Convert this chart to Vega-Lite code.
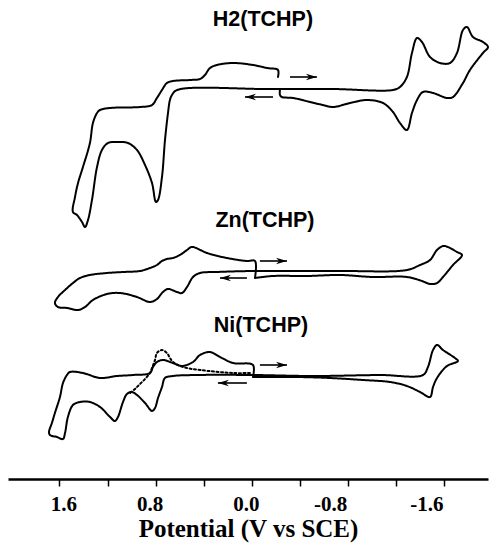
{
"$schema": "https://vega.github.io/schema/vega-lite/v6.json",
"width": 480, "height": 479,
"autosize": "none",
"padding": {"left": 8, "right": 2, "top": 0, "bottom": 67},
"background": "white",
"config": {"view": {"stroke": null}},
"datasets": {
"curves": [
{"s":"H2","st":"solid","o":1,"V":-0.216,"I":402},{"s":"H2","st":"solid","o":2,"V":-0.216,"I":409},{"s":"H2","st":"solid","o":3,"V":-0.125,"I":411},{"s":"H2","st":"solid","o":4,"V":-0.008,"I":414},{"s":"H2","st":"solid","o":5,"V":0.158,"I":416},{"s":"H2","st":"solid","o":6,"V":0.291,"I":414},{"s":"H2","st":"solid","o":7,"V":0.349,"I":411},{"s":"H2","st":"solid","o":8,"V":0.391,"I":404},{"s":"H2","st":"solid","o":9,"V":0.432,"I":400},{"s":"H2","st":"solid","o":10,"V":0.515,"I":399},{"s":"H2","st":"solid","o":11,"V":0.657,"I":398},{"s":"H2","st":"solid","o":12,"V":0.707,"I":396},{"s":"H2","st":"solid","o":13,"V":0.748,"I":389},{"s":"H2","st":"solid","o":14,"V":0.79,"I":381},{"s":"H2","st":"solid","o":15,"V":0.831,"I":374},{"s":"H2","st":"solid","o":16,"V":0.931,"I":372},{"s":"H2","st":"solid","o":17,"V":1.18,"I":371},{"s":"H2","st":"solid","o":18,"V":1.263,"I":369},{"s":"H2","st":"solid","o":19,"V":1.288,"I":366},{"s":"H2","st":"solid","o":20,"V":1.322,"I":356},{"s":"H2","st":"solid","o":21,"V":1.347,"I":336},{"s":"H2","st":"solid","o":22,"V":1.405,"I":312},{"s":"H2","st":"solid","o":23,"V":1.446,"I":296},{"s":"H2","st":"solid","o":24,"V":1.471,"I":282},{"s":"H2","st":"solid","o":25,"V":1.488,"I":267},{"s":"H2","st":"solid","o":26,"V":1.455,"I":264},{"s":"H2","st":"solid","o":27,"V":1.413,"I":257},{"s":"H2","st":"solid","o":28,"V":1.388,"I":252},{"s":"H2","st":"solid","o":29,"V":1.363,"I":259},{"s":"H2","st":"solid","o":30,"V":1.33,"I":279},{"s":"H2","st":"solid","o":31,"V":1.288,"I":312},{"s":"H2","st":"solid","o":32,"V":1.247,"I":329},{"s":"H2","st":"solid","o":33,"V":1.197,"I":336},{"s":"H2","st":"solid","o":34,"V":1.114,"I":337},{"s":"H2","st":"solid","o":35,"V":1.031,"I":336},{"s":"H2","st":"solid","o":36,"V":0.956,"I":329},{"s":"H2","st":"solid","o":37,"V":0.889,"I":314},{"s":"H2","st":"solid","o":38,"V":0.831,"I":296},{"s":"H2","st":"solid","o":39,"V":0.798,"I":277},{"s":"H2","st":"solid","o":40,"V":0.781,"I":279},{"s":"H2","st":"solid","o":41,"V":0.748,"I":302},{"s":"H2","st":"solid","o":42,"V":0.723,"I":339},{"s":"H2","st":"solid","o":43,"V":0.698,"I":366},{"s":"H2","st":"solid","o":44,"V":0.682,"I":379},{"s":"H2","st":"solid","o":45,"V":0.665,"I":384},{"s":"H2","st":"solid","o":46,"V":0.623,"I":389},{"s":"H2","st":"solid","o":47,"V":-0.125,"I":390},{"s":"H2","st":"solid","o":48,"V":-0.673,"I":390},{"s":"H2","st":"solid","o":49,"V":-1.172,"I":389},{"s":"H2","st":"solid","o":50,"V":-1.23,"I":392},{"s":"H2","st":"solid","o":51,"V":-1.288,"I":402},{"s":"H2","st":"solid","o":52,"V":-1.33,"I":426},{"s":"H2","st":"solid","o":53,"V":-1.372,"I":441},{"s":"H2","st":"solid","o":54,"V":-1.413,"I":437},{"s":"H2","st":"solid","o":55,"V":-1.48,"I":422},{"s":"H2","st":"solid","o":56,"V":-1.563,"I":416},{"s":"H2","st":"solid","o":57,"V":-1.646,"I":416},{"s":"H2","st":"solid","o":58,"V":-1.704,"I":426},{"s":"H2","st":"solid","o":59,"V":-1.754,"I":449},{"s":"H2","st":"solid","o":60,"V":-1.787,"I":452},{"s":"H2","st":"solid","o":61,"V":-1.837,"I":442},{"s":"H2","st":"solid","o":62,"V":-1.92,"I":437},{"s":"H2","st":"solid","o":63,"V":-1.962,"I":432},{"s":"H2","st":"solid","o":64,"V":-1.92,"I":426},{"s":"H2","st":"solid","o":65,"V":-1.812,"I":409},{"s":"H2","st":"solid","o":66,"V":-1.754,"I":396},{"s":"H2","st":"solid","o":67,"V":-1.671,"I":382},{"s":"H2","st":"solid","o":68,"V":-1.621,"I":381},{"s":"H2","st":"solid","o":69,"V":-1.505,"I":386},{"s":"H2","st":"solid","o":70,"V":-1.421,"I":387},{"s":"H2","st":"solid","o":71,"V":-1.372,"I":379},{"s":"H2","st":"solid","o":72,"V":-1.33,"I":366},{"s":"H2","st":"solid","o":73,"V":-1.288,"I":349},{"s":"H2","st":"solid","o":74,"V":-1.23,"I":356},{"s":"H2","st":"solid","o":75,"V":-1.172,"I":367},{"s":"H2","st":"solid","o":76,"V":-1.089,"I":376},{"s":"H2","st":"solid","o":77,"V":-0.956,"I":379},{"s":"H2","st":"solid","o":78,"V":-0.815,"I":376},{"s":"H2","st":"solid","o":79,"V":-0.673,"I":372},{"s":"H2","st":"solid","o":80,"V":-0.59,"I":374},{"s":"H2","st":"solid","o":81,"V":-0.482,"I":377},{"s":"H2","st":"solid","o":82,"V":-0.341,"I":381},{"s":"H2","st":"solid","o":83,"V":-0.249,"I":382},{"s":"H2","st":"solid","o":84,"V":-0.233,"I":384},{"s":"H2","st":"solid","o":85,"V":-0.233,"I":390},
{"s":"Zn","st":"solid","o":0,"V":-0.025,"I":201},{"s":"Zn","st":"solid","o":1,"V":-0.025,"I":218},{"s":"Zn","st":"solid","o":2,"V":0.042,"I":218},{"s":"Zn","st":"solid","o":3,"V":0.208,"I":221},{"s":"Zn","st":"solid","o":4,"V":0.374,"I":226},{"s":"Zn","st":"solid","o":5,"V":0.499,"I":232},{"s":"Zn","st":"solid","o":6,"V":0.54,"I":229},{"s":"Zn","st":"solid","o":7,"V":0.599,"I":224},{"s":"Zn","st":"solid","o":8,"V":0.657,"I":221},{"s":"Zn","st":"solid","o":9,"V":0.707,"I":220},{"s":"Zn","st":"solid","o":10,"V":0.748,"I":218},{"s":"Zn","st":"solid","o":11,"V":0.79,"I":214},{"s":"Zn","st":"solid","o":12,"V":0.848,"I":211},{"s":"Zn","st":"solid","o":13,"V":0.931,"I":208},{"s":"Zn","st":"solid","o":14,"V":1.072,"I":207},{"s":"Zn","st":"solid","o":15,"V":1.205,"I":206},{"s":"Zn","st":"solid","o":16,"V":1.347,"I":204},{"s":"Zn","st":"solid","o":17,"V":1.43,"I":201},{"s":"Zn","st":"solid","o":18,"V":1.488,"I":196},{"s":"Zn","st":"solid","o":19,"V":1.554,"I":189},{"s":"Zn","st":"solid","o":20,"V":1.613,"I":182},{"s":"Zn","st":"solid","o":21,"V":1.638,"I":176},{"s":"Zn","st":"solid","o":22,"V":1.613,"I":172},{"s":"Zn","st":"solid","o":23,"V":1.538,"I":171},{"s":"Zn","st":"solid","o":24,"V":1.446,"I":169},{"s":"Zn","st":"solid","o":25,"V":1.388,"I":172},{"s":"Zn","st":"solid","o":26,"V":1.322,"I":179},{"s":"Zn","st":"solid","o":27,"V":1.205,"I":185},{"s":"Zn","st":"solid","o":28,"V":1.097,"I":186},{"s":"Zn","st":"solid","o":29,"V":0.956,"I":182},{"s":"Zn","st":"solid","o":30,"V":0.848,"I":177},{"s":"Zn","st":"solid","o":31,"V":0.79,"I":180},{"s":"Zn","st":"solid","o":32,"V":0.74,"I":187},{"s":"Zn","st":"solid","o":33,"V":0.698,"I":190},{"s":"Zn","st":"solid","o":34,"V":0.623,"I":187},{"s":"Zn","st":"solid","o":35,"V":0.582,"I":186},{"s":"Zn","st":"solid","o":36,"V":0.54,"I":192},{"s":"Zn","st":"solid","o":37,"V":0.49,"I":202},{"s":"Zn","st":"solid","o":38,"V":0.432,"I":206},{"s":"Zn","st":"solid","o":39,"V":0.291,"I":207},{"s":"Zn","st":"solid","o":40,"V":-0.008,"I":208},{"s":"Zn","st":"solid","o":41,"V":-0.732,"I":208},{"s":"Zn","st":"solid","o":42,"V":-1.288,"I":209},{"s":"Zn","st":"solid","o":43,"V":-1.397,"I":214},{"s":"Zn","st":"solid","o":44,"V":-1.48,"I":219},{"s":"Zn","st":"solid","o":45,"V":-1.538,"I":229},{"s":"Zn","st":"solid","o":46,"V":-1.588,"I":233},{"s":"Zn","st":"solid","o":47,"V":-1.629,"I":232},{"s":"Zn","st":"solid","o":48,"V":-1.704,"I":227},{"s":"Zn","st":"solid","o":49,"V":-1.746,"I":224},{"s":"Zn","st":"solid","o":50,"V":-1.671,"I":214},{"s":"Zn","st":"solid","o":51,"V":-1.588,"I":202},{"s":"Zn","st":"solid","o":52,"V":-1.538,"I":196},{"s":"Zn","st":"solid","o":53,"V":-1.48,"I":195},{"s":"Zn","st":"solid","o":54,"V":-1.413,"I":198},{"s":"Zn","st":"solid","o":55,"V":-1.288,"I":202},{"s":"Zn","st":"solid","o":56,"V":-1.006,"I":202},{"s":"Zn","st":"solid","o":57,"V":-0.732,"I":204},{"s":"Zn","st":"solid","o":58,"V":-0.457,"I":203},{"s":"Zn","st":"solid","o":59,"V":-0.175,"I":203},{"s":"Zn","st":"solid","o":60,"V":-0.025,"I":201},
{"s":"Ni","st":"solid","o":0,"V":-0.008,"I":102},{"s":"Ni","st":"solid","o":1,"V":-0.008,"I":114},{"s":"Ni","st":"solid","o":2,"V":0.158,"I":116},{"s":"Ni","st":"solid","o":3,"V":0.266,"I":122},{"s":"Ni","st":"solid","o":4,"V":0.349,"I":127},{"s":"Ni","st":"solid","o":5,"V":0.432,"I":124},{"s":"Ni","st":"solid","o":6,"V":0.49,"I":117},{"s":"Ni","st":"solid","o":7,"V":0.582,"I":113},{"s":"Ni","st":"solid","o":8,"V":0.657,"I":116},{"s":"Ni","st":"solid","o":9,"V":0.74,"I":119},{"s":"Ni","st":"solid","o":10,"V":0.79,"I":117},{"s":"Ni","st":"solid","o":11,"V":0.823,"I":112},{"s":"Ni","st":"solid","o":12,"V":0.848,"I":106},{"s":"Ni","st":"solid","o":13,"V":0.989,"I":104},{"s":"Ni","st":"solid","o":14,"V":1.122,"I":103},{"s":"Ni","st":"solid","o":15,"V":1.263,"I":101},{"s":"Ni","st":"solid","o":16,"V":1.405,"I":106},{"s":"Ni","st":"solid","o":17,"V":1.513,"I":107},{"s":"Ni","st":"solid","o":18,"V":1.538,"I":104},{"s":"Ni","st":"solid","o":19,"V":1.571,"I":96},{"s":"Ni","st":"solid","o":20,"V":1.596,"I":82},{"s":"Ni","st":"solid","o":21,"V":1.638,"I":66},{"s":"Ni","st":"solid","o":22,"V":1.663,"I":56},{"s":"Ni","st":"solid","o":23,"V":1.687,"I":47},{"s":"Ni","st":"solid","o":24,"V":1.679,"I":44},{"s":"Ni","st":"solid","o":25,"V":1.621,"I":42},{"s":"Ni","st":"solid","o":26,"V":1.571,"I":40},{"s":"Ni","st":"solid","o":27,"V":1.554,"I":46},{"s":"Ni","st":"solid","o":28,"V":1.53,"I":62},{"s":"Ni","st":"solid","o":29,"V":1.488,"I":74},{"s":"Ni","st":"solid","o":30,"V":1.43,"I":77},{"s":"Ni","st":"solid","o":31,"V":1.347,"I":77},{"s":"Ni","st":"solid","o":32,"V":1.263,"I":72},{"s":"Ni","st":"solid","o":33,"V":1.18,"I":62},{"s":"Ni","st":"solid","o":34,"V":1.139,"I":58},{"s":"Ni","st":"solid","o":35,"V":1.114,"I":62},{"s":"Ni","st":"solid","o":36,"V":1.072,"I":77},{"s":"Ni","st":"solid","o":37,"V":1.039,"I":85},{"s":"Ni","st":"solid","o":38,"V":0.998,"I":87},{"s":"Ni","st":"solid","o":39,"V":0.956,"I":84},{"s":"Ni","st":"solid","o":40,"V":0.889,"I":76},{"s":"Ni","st":"solid","o":41,"V":0.831,"I":68},{"s":"Ni","st":"solid","o":42,"V":0.806,"I":71},{"s":"Ni","st":"solid","o":43,"V":0.781,"I":81},{"s":"Ni","st":"solid","o":44,"V":0.748,"I":92},{"s":"Ni","st":"solid","o":45,"V":0.723,"I":101},{"s":"Ni","st":"solid","o":46,"V":0.657,"I":103},{"s":"Ni","st":"solid","o":47,"V":0.457,"I":104},{"s":"Ni","st":"solid","o":48,"V":-0.008,"I":104},{"s":"Ni","st":"solid","o":49,"V":-0.507,"I":103},{"s":"Ni","st":"solid","o":50,"V":-1.064,"I":104},{"s":"Ni","st":"solid","o":51,"V":-1.421,"I":104},{"s":"Ni","st":"solid","o":52,"V":-1.463,"I":112},{"s":"Ni","st":"solid","o":53,"V":-1.505,"I":129},{"s":"Ni","st":"solid","o":54,"V":-1.538,"I":134},{"s":"Ni","st":"solid","o":55,"V":-1.588,"I":129},{"s":"Ni","st":"solid","o":56,"V":-1.687,"I":121},{"s":"Ni","st":"solid","o":57,"V":-1.712,"I":118},{"s":"Ni","st":"solid","o":58,"V":-1.621,"I":113},{"s":"Ni","st":"solid","o":59,"V":-1.538,"I":101},{"s":"Ni","st":"solid","o":60,"V":-1.505,"I":92},{"s":"Ni","st":"solid","o":61,"V":-1.48,"I":82},{"s":"Ni","st":"solid","o":62,"V":-1.397,"I":87},{"s":"Ni","st":"solid","o":63,"V":-1.288,"I":93},{"s":"Ni","st":"solid","o":64,"V":-1.147,"I":97},{"s":"Ni","st":"solid","o":65,"V":-0.923,"I":99},{"s":"Ni","st":"solid","o":66,"V":-0.648,"I":101},{"s":"Ni","st":"solid","o":67,"V":-0.374,"I":102},{"s":"Ni","st":"solid","o":68,"V":-0.091,"I":102},{"s":"Ni","st":"solid","o":69,"V":-0.008,"I":102},
{"s":"Nid","st":"dotted","o":0,"V":0.017,"I":106},{"s":"Nid","st":"dotted","o":1,"V":0.158,"I":106},{"s":"Nid","st":"dotted","o":2,"V":0.432,"I":109},{"s":"Nid","st":"dotted","o":3,"V":0.574,"I":112},{"s":"Nid","st":"dotted","o":4,"V":0.657,"I":117},{"s":"Nid","st":"dotted","o":5,"V":0.682,"I":121},{"s":"Nid","st":"dotted","o":6,"V":0.707,"I":126},{"s":"Nid","st":"dotted","o":7,"V":0.748,"I":129},{"s":"Nid","st":"dotted","o":8,"V":0.79,"I":126},{"s":"Nid","st":"dotted","o":9,"V":0.806,"I":119},{"s":"Nid","st":"dotted","o":10,"V":0.831,"I":111},{"s":"Nid","st":"dotted","o":11,"V":0.848,"I":106},{"s":"Nid","st":"dotted","o":12,"V":0.889,"I":100},{"s":"Nid","st":"dotted","o":13,"V":0.931,"I":95},{"s":"Nid","st":"dotted","o":14,"V":0.973,"I":90},{"s":"Nid","st":"dotted","o":15,"V":1.014,"I":86}
],
"labels": [
{"t":"H2(TCHP)","V":-0.091,"I":459},
{"t":"Zn(TCHP)","V":-0.108,"I":258},
{"t":"Ni(TCHP)","V":-0.075,"I":153}
],
"arrows": [
{"V":-0.316,"V2":-0.540,"I":402,"a":0},
{"V":-0.175,"V2":0.058,"I":382,"a":180},
{"V":-0.066,"V2":-0.291,"I":218,"a":0},
{"V":0.042,"V2":0.266,"I":201,"a":180},
{"V":-0.066,"V2":-0.291,"I":114,"a":0},
{"V":0.042,"V2":0.283,"I":96,"a":180}
]
},
"layer": [
{
"data": {"name": "curves"},
"mark": {"type": "line", "color": "black", "strokeWidth": 2, "strokeJoin": "round", "strokeCap": "round", "interpolate": "catmull-rom"},
"encoding": {
"x": {"field": "V", "type": "quantitative", "scale": {"domain": [-1.962, 2.028], "reverse": true, "nice": false, "zero": false},
"axis": {"values": [1.6, 1.2, 0.8, 0.4, 0, -0.4, -0.8, -1.2, -1.6],
"labelExpr": "abs(round(datum.value*10)) % 8 == 0 ? (datum.value < 0 ? '-' : '') + format(abs(datum.value), '.1f') : ''",
"labelOffset": {"condition": [{"test": "datum.value > 1", "value": 4}, {"test": "datum.value < -0.1", "value": -18}], "value": -6},
"grid": false, "domainColor": "black", "domainWidth": 2.5, "tickColor": "black", "tickWidth": 1.5, "tickSize": 7,
"labelFont": "Liberation Serif", "labelFontWeight": "bold", "labelFontSize": 21, "labelColor": "black", "labelPadding": 7,
"labelOverlap": false, "labelFlush": false,
"title": "Potential (V vs SCE)", "titleFont": "Liberation Serif", "titleFontWeight": "bold", "titleFontSize": 25, "titleColor": "black", "titlePadding": 2}},
"y": {"field": "I", "type": "quantitative", "scale": {"domain": [0, 479], "nice": false, "zero": false}, "axis": null},
"order": {"field": "o", "type": "quantitative"},
"detail": {"field": "s", "type": "nominal"},
"strokeDash": {"field": "st", "type": "nominal", "scale": {"domain": ["solid", "dotted"], "range": [[1, 0], [2, 2.5]]}, "legend": null}
}
},
{
"data": {"name": "labels"},
"mark": {"type": "text", "font": "Liberation Sans", "fontWeight": "bold", "fontSize": 21.5, "color": "black", "baseline": "middle", "align": "center"},
"encoding": {
"x": {"field": "V", "type": "quantitative"},
"y": {"field": "I", "type": "quantitative"},
"text": {"field": "t", "type": "nominal"}
}
},
{
"data": {"name": "arrows"},
"mark": {"type": "rule", "color": "black", "strokeWidth": 1.6},
"encoding": {
"x": {"field": "V", "type": "quantitative"},
"x2": {"field": "V2"},
"y": {"field": "I", "type": "quantitative"}
}
},
{
"data": {"name": "arrows"},
"mark": {"type": "point", "filled": true, "color": "black", "opacity": 1, "size": 121, "shape": "M0,0 L-2,-0.6 L-1.4,0 L-2,0.6 Z"},
"encoding": {
"x": {"field": "V2", "type": "quantitative"},
"y": {"field": "I", "type": "quantitative"},
"angle": {"field": "a", "type": "quantitative", "scale": null}
}
}
]
}
